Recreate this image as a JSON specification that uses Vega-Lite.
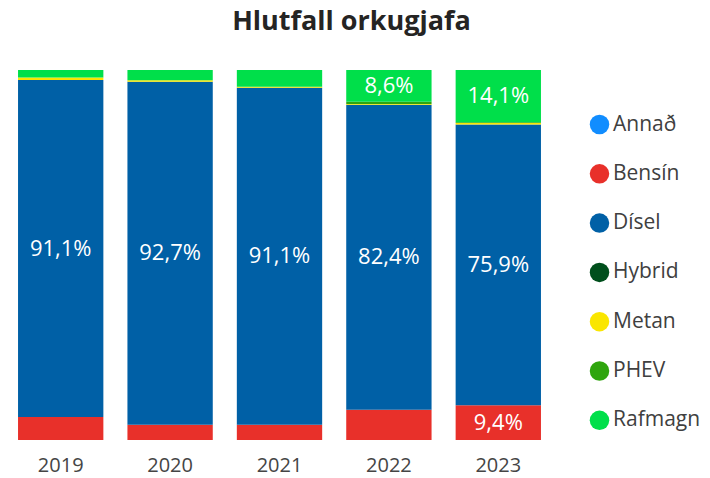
{
  "$schema": "https://vega.github.io/schema/vega-lite/v6.json",
  "width": 547,
  "height": 370,
  "autosize": {"type": "none"},
  "padding": {"left": 6, "top": 70, "right": 157, "bottom": 38},
  "background": "white",
  "title": {"text": "Hlutfall orkugjafa", "anchor": "middle", "dx": 72, "offset": 34, "fontSize": 27, "font": "Open Sans", "fontWeight": "bold", "color": "#252423"},
  "data": {"values": [
    {"year": "2019", "type": "Bensín", "value": 6.2},
    {"year": "2019", "type": "Dísel", "value": 91.1},
    {"year": "2019", "type": "Metan", "value": 0.7},
    {"year": "2019", "type": "Rafmagn", "value": 2.0},
    {"year": "2020", "type": "Bensín", "value": 4.1},
    {"year": "2020", "type": "Dísel", "value": 92.7},
    {"year": "2020", "type": "Metan", "value": 0.4},
    {"year": "2020", "type": "Rafmagn", "value": 2.8},
    {"year": "2021", "type": "Bensín", "value": 4.1},
    {"year": "2021", "type": "Dísel", "value": 91.1},
    {"year": "2021", "type": "Metan", "value": 0.3},
    {"year": "2021", "type": "Rafmagn", "value": 4.5},
    {"year": "2022", "type": "Bensín", "value": 8.2},
    {"year": "2022", "type": "Dísel", "value": 82.4},
    {"year": "2022", "type": "Metan", "value": 0.2},
    {"year": "2022", "type": "PHEV", "value": 0.6},
    {"year": "2022", "type": "Rafmagn", "value": 8.6},
    {"year": "2023", "type": "Bensín", "value": 9.4},
    {"year": "2023", "type": "Dísel", "value": 75.9},
    {"year": "2023", "type": "Metan", "value": 0.4},
    {"year": "2023", "type": "PHEV", "value": 0.2},
    {"year": "2023", "type": "Rafmagn", "value": 14.1}
  ]},
  "transform": [
    {"stack": "value", "groupby": ["year"], "offset": "normalize", "sort": [{"field": "type", "order": "ascending"}], "as": ["y0", "y1"]},
    {"calculate": "(datum.y0 + datum.y1) / 2", "as": "mid"},
    {"calculate": "replace(format(datum.value, '.1f'), '.', ',') + '%'", "as": "label"}
  ],
  "encoding": {
    "x": {"field": "year", "type": "nominal", "scale": {"paddingInner": 0.22, "paddingOuter": 0.11},
      "axis": {"title": null, "labelAngle": 0, "domain": false, "ticks": false, "labelFontSize": 20, "labelColor": "#454545", "labelFont": "Open Sans", "labelPadding": 15}}
  },
  "layer": [
    {
      "mark": {"type": "bar"},
      "encoding": {
        "y": {"field": "y0", "type": "quantitative", "scale": {"domain": [0, 1]}, "axis": null},
        "y2": {"field": "y1"},
        "color": {"field": "type", "type": "nominal",
          "scale": {"domain": ["Annað", "Bensín", "Dísel", "Hybrid", "Metan", "PHEV", "Rafmagn"],
                    "range": ["#118DFF", "#E8302A", "#0060A6", "#004F1C", "#FAE600", "#2FA50E", "#00DF4A"]},
          "legend": {"title": null, "orient": "none", "legendX": 583, "legendY": 44, "symbolType": "circle", "symbolSize": 380, "labelFontSize": 21, "labelFont": "Open Sans", "labelColor": "#404040", "rowPadding": 27.3, "symbolStrokeWidth": 0, "labelOffset": 3}
        }
      }
    },
    {
      "transform": [{"filter": "datum.value >= 8.5"}],
      "mark": {"type": "text", "color": "white", "fontSize": 22, "font": "Open Sans", "baseline": "middle"},
      "encoding": {
        "y": {"field": "mid", "type": "quantitative"},
        "text": {"field": "label"}
      }
    }
  ],
  "config": {"view": {"stroke": null}}
}
